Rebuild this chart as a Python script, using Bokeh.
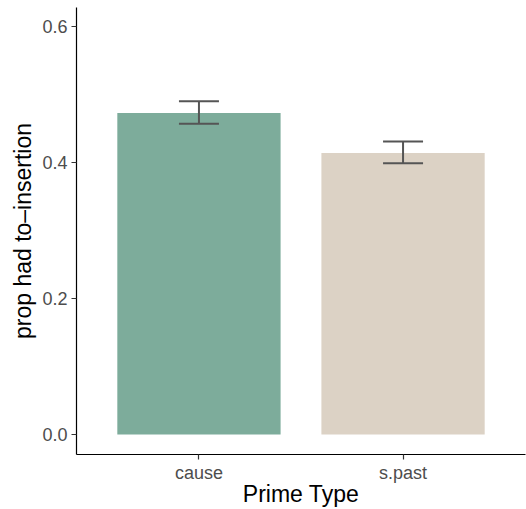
from bokeh.plotting import figure
from bokeh.models import ColumnDataSource, FixedTicker, Range1d, Whisker, TeeHead
from bokeh.embed import file_html
from bokeh.resources import INLINE

categories = ["cause", "s.past"]
props = [0.473, 0.414]
err_low = [0.457, 0.399]
err_high = [0.490, 0.431]
colors = ["#7DAC9B", "#DCD2C5"]
y_ticks = [0.0, 0.2, 0.4, 0.6]
y_tick_labels = ["0.0", "0.2", "0.4", "0.6"]
x_title = "Prime Type"
y_title = "prop had to\u2013insertion"

xs = [i + 1 for i in range(len(categories))]
src = ColumnDataSource(dict(x=xs, top=props, lo=err_low, hi=err_high, color=colors))

p = figure(width=526, height=509, output_backend="svg", toolbar_location=None,
           x_range=Range1d(0.4, 2.6), y_range=Range1d(-0.0293, 0.628),
           min_border_left=76, min_border_right=1, min_border_top=7, min_border_bottom=54,
           background_fill_color="white", border_fill_color="white")

p.vbar(x="x", top="top", bottom=0, width=0.8, color="color", line_color=None, source=src)

err = Whisker(source=src, base="x", upper="hi", lower="lo", level="overlay",
              line_color="#555555", line_width=2,
              upper_head=TeeHead(size=40, line_color="#555555", line_width=2),
              lower_head=TeeHead(size=40, line_color="#555555", line_width=2))
p.add_layout(err)

p.xgrid.visible = False
p.ygrid.visible = False
p.outline_line_color = None

p.xaxis.ticker = FixedTicker(ticks=xs)
p.xaxis.major_label_overrides = {x: c for x, c in zip(xs, categories)}
p.yaxis.ticker = FixedTicker(ticks=y_ticks)
p.yaxis.major_label_overrides = {t: l for t, l in zip(y_ticks, y_tick_labels)}
p.xaxis.axis_label = x_title
p.yaxis.axis_label = y_title

for ax in (p.xaxis, p.yaxis):
    ax.axis_line_color = "black"
    ax.axis_line_width = 1.2
    ax.major_tick_line_color = "#333333"
    ax.major_tick_line_width = 1.2
    ax.major_tick_out = 5
    ax.major_tick_in = 0
    ax.minor_tick_line_color = None
    ax.major_label_text_font = "Liberation Sans"
    ax.major_label_text_font_size = "18px"
    ax.major_label_text_color = "#4D4D4D"
    ax.axis_label_text_font = "Liberation Sans"
    ax.axis_label_text_font_size = "23px"
    ax.axis_label_text_font_style = "normal"
    ax.axis_label_text_color = "black"

p.xaxis.major_label_standoff = 3
p.xaxis.axis_label_standoff = -5
p.yaxis.major_label_standoff = 4
p.yaxis.axis_label_standoff = 3

open("out.html", "w").write(file_html(p, INLINE))
